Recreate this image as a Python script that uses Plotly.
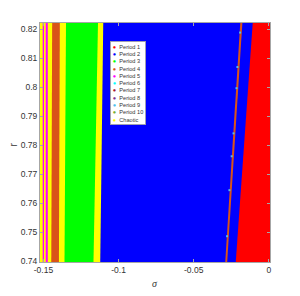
import plotly.graph_objects as go

# Legend categories and colours
labels = ["Period 1", "Period 2", "Period 3", "Period 4", "Period 5", "Period 6",
          "Period 7", "Period 8", "Period 9", "Period 10", "Chaotic"]
colors = ["#FF0000", "#0000FF", "#00FF00", "#D95319", "#FF00FF", "#00FFFF",
          "#A2142F", "#7E2F8E", "#4DBEEE", "#77AC30", "#FFFF00"]

# r extent of the scan (bottom, top)
r_scan = [0.7397, 0.8222]

# region boundaries in sigma, read at the bottom and top of the scan (left to right)
edge_bottom = [-0.1523, -0.1505, -0.1496, -0.1485, -0.1471, -0.1448, -0.1397,
               -0.1360, -0.1167, -0.1122, -0.0290, -0.0277, -0.0220, 0.0008]
edge_top = [-0.1523, -0.1505, -0.1496, -0.1485, -0.1471, -0.1442, -0.1391,
            -0.1350, -0.1137, -0.1102, -0.0190, -0.0176, -0.0107, 0.0008]
# class of each band between consecutive boundaries (index into labels)
band_class = [10, 4, 10, 4, 10, 3, 10, 2, 10, 1, 3, 1, 0]

# scattered period-9 points along the thin period-4 line
p9_sigma = [-0.0191, -0.0209, -0.0215, -0.0235, -0.0247, -0.0262, -0.0278]
p9_r = [0.8189, 0.8070, 0.7997, 0.7841, 0.7762, 0.7645, 0.7486]

x_ticks = [-0.15, -0.1, -0.05, 0]
x_ticktext = ["-0.15", "-0.1", "-0.05", "0"]
y_ticks = [0.74, 0.75, 0.76, 0.77, 0.78, 0.79, 0.80, 0.81, 0.82]
y_ticktext = ["0.74", "0.75", "0.76", "0.77", "0.78", "0.79", "0.8", "0.81", "0.82"]

fig = go.Figure()
right = edge_top[-1]
for i, c in enumerate(band_class):
    xs = [edge_bottom[i], edge_top[i], right, right]
    ys = [r_scan[0], r_scan[1], r_scan[1], r_scan[0]]
    fig.add_trace(go.Scatter(x=xs, y=ys, fill="toself", fillcolor=colors[c],
                             mode="lines", line=dict(width=0),
                             hoverinfo="skip", showlegend=False))

fig.add_trace(go.Scatter(x=p9_sigma, y=p9_r, mode="markers",
                         marker=dict(color=colors[8], size=2, symbol="square", line=dict(width=0)),
                         hoverinfo="skip", showlegend=False))

legend_lines = ["<span style='color:%s'>●</span>  %s" % (c, l) for c, l in zip(colors, labels)]
fig.add_annotation(xref="paper", yref="paper", x=0.3065, y=0.9235,
                   xanchor="left", yanchor="top", align="left", showarrow=False,
                   text="<br>".join(legend_lines),
                   font=dict(family="Liberation Sans, Arial", size=5.6, color="#333333"),
                   bgcolor="white", bordercolor="#a0a0a0", borderwidth=0.8, borderpad=2)

# axis titles
fig.add_annotation(xref="paper", yref="paper", x=0.502, y=-0.088, xanchor="center", yanchor="middle",
                   text="<i>σ</i>", showarrow=False,
                   font=dict(family="Liberation Serif, Times New Roman", size=10, color="#333333"))
fig.add_annotation(xref="paper", yref="paper", x=-0.115, y=0.49, xanchor="center", yanchor="middle",
                   text="r", showarrow=False, textangle=-90,
                   font=dict(family="Liberation Sans, Arial", size=10, color="#333333"))

axis_common = dict(showline=True, linecolor="#a6a6a6", linewidth=1, mirror="ticks",
                   ticks="inside", ticklen=3, tickcolor="#a6a6a6", showgrid=False,
                   zeroline=False, automargin=False,
                   tickfont=dict(family="Liberation Sans, Arial", size=8.5, color="#333333"))

fig.update_xaxes(range=[-0.1523, 0.0008], tickvals=x_ticks, ticktext=x_ticktext, **axis_common)
fig.update_yaxes(range=[0.7397, 0.8222], tickvals=y_ticks, ticktext=y_ticktext, **axis_common)

# page body adds an 8px offset, so the figure is sized to end at the window edge
fig.update_layout(width=292, height=288, margin=dict(l=32, r=30, t=15, b=34),
                  paper_bgcolor="white", plot_bgcolor="white", showlegend=False)

fig.write_html("out.html")
